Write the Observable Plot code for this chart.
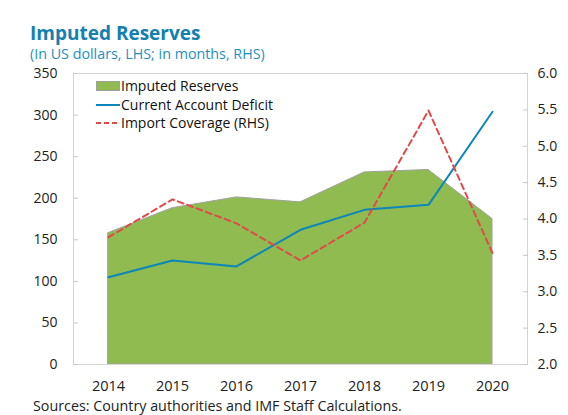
<!DOCTYPE html>
<html><head><meta charset="utf-8">
<script src="https://cdn.jsdelivr.net/npm/d3@7"></script>
<script src="https://cdn.jsdelivr.net/npm/@observablehq/plot@0.6"></script>
<style>
body{margin:0;background:#fff;font-family:"Open Sans",sans-serif;}
#wrap{position:relative;width:568px;height:415px;overflow:hidden;}
#title{position:absolute;left:30px;top:24px;font-size:19px;line-height:19px;font-weight:bold;color:#1380b0;white-space:nowrap;}
#sub{position:absolute;left:30px;top:47px;font-size:14.3px;line-height:14px;color:#1f8fc0;white-space:nowrap;}
#chart{position:absolute;left:0;top:64px;}
#cap{position:absolute;left:33px;top:397px;font-size:14.3px;line-height:17px;color:#222;white-space:nowrap;}
#legend{position:absolute;left:96px;top:77px;font-size:14px;color:#111;line-height:18.5px;}
.li{display:flex;align-items:center;height:18.5px;}
.sw{width:24px;margin-right:1px;}
</style></head>
<body><div id="wrap">
<div id="title">Imputed Reserves</div>
<div id="sub">(In US dollars, LHS; in months, RHS)</div>
<div id="chart"></div>
<div id="legend">
<div class="li"><svg class="sw" width="24" height="10"><rect x="0.5" y="0.5" width="23" height="9" fill="#8fbb50" stroke="#a0a0a0"/></svg>Imputed Reserves</div>
<div class="li"><svg class="sw" width="24" height="10"><line x1="0" x2="24" y1="5" y2="5" stroke="#0b87b9" stroke-width="2"/></svg>Current Account Deficit</div>
<div class="li"><svg class="sw" width="24" height="10"><line x1="0" x2="24" y1="5" y2="5" stroke="#e04a4a" stroke-width="2" stroke-dasharray="5,3"/></svg>Import Coverage (RHS)</div>
</div>
<div id="cap">Sources: Country authorities and IMF Staff Calculations.</div>
</div>
<script>
const years = ["2014","2015","2016","2017","2018","2019","2020"];
const imputedReserves = [158, 188, 201, 195, 231, 234, 175];
const currentAccountDeficit = [105, 125, 118, 162, 186, 192, 304];
const importCoverage = [3.75, 4.27, 3.94, 3.43, 3.95, 5.49, 3.53];
const leftTicks = [0, 50, 100, 150, 200, 250, 300, 350];
const rightTicks = [2.0, 2.5, 3.0, 3.5, 4.0, 4.5, 5.0, 5.5, 6.0];

const rightToLeft = v => (v - 2) * 350 / 4;
const rows = years.map((y, i) => ({
  year: y, res: imputedReserves[i], cad: currentAccountDeficit[i],
  cov: rightToLeft(importCoverage[i])
}));

const plot = Plot.plot({
  width: 568, height: 332,
  marginLeft: 73, marginRight: 41, marginTop: 9, marginBottom: 32,
  style: {fontFamily: "Open Sans, sans-serif", fontSize: "14px", color: "#222"},
  x: {type: "point", domain: years, padding: 0.5, label: null},
  y: {domain: [0, 350], label: null},
  marks: [
    Plot.areaY(rows, {x: "year", y: "res", fill: "#8fbb50", stroke: "#a0a0a0", strokeWidth: 1}),
    Plot.frame({stroke: "#d4d4d4"}),
    Plot.axisY({ticks: leftTicks, tickSize: -5, text: null, stroke: "#c8c8c8"}),
    Plot.axisY({ticks: leftTicks, tickSize: 0, tickPadding: 16, fill: "#222", fontSize: 14}),
    Plot.axisY({anchor: "right", ticks: rightTicks.map(rightToLeft), tickSize: -5, text: null, stroke: "#c8c8c8"}),
    Plot.axisY({anchor: "right", ticks: rightTicks.map(rightToLeft), tickSize: 0, tickPadding: 10,
      tickFormat: d => d3.format(".1f")(d * 4 / 350 + 2), fill: "#222", fontSize: 14}),
    Plot.axisX({tickSize: 0, tickPadding: 16, fill: "#222", fontSize: 14.5}),
    Plot.lineY(rows, {x: "year", y: "cad", stroke: "#0b87b9", strokeWidth: 2}),
    Plot.lineY(rows, {x: "year", y: "cov", stroke: "#e04a4a", strokeWidth: 2, strokeDasharray: "6,4"})
  ]
});
document.getElementById("chart").appendChild(plot);
</script>
</body></html>
